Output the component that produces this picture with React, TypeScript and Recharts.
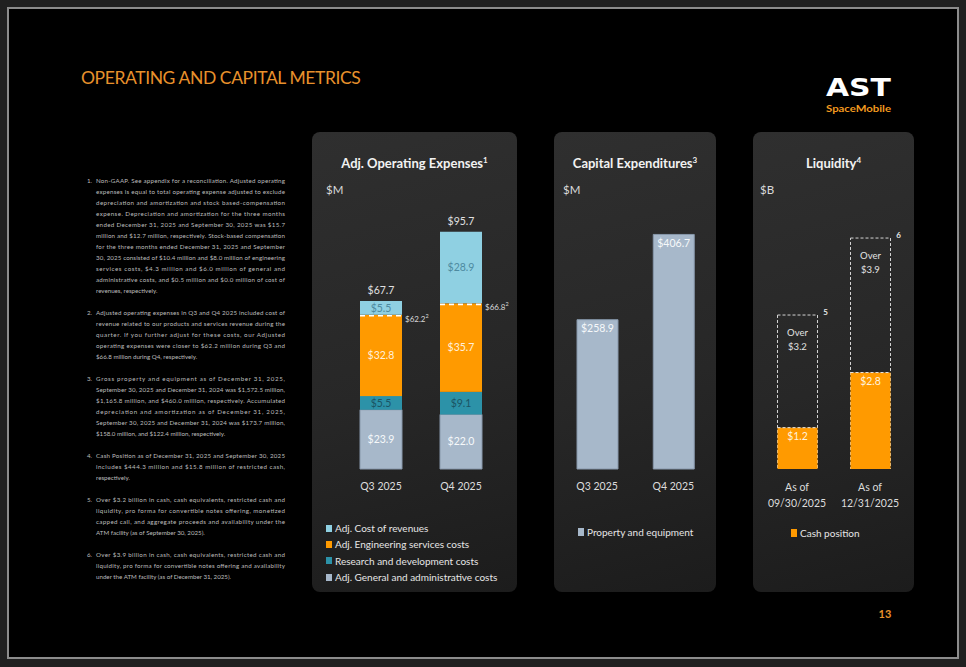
import { Bar, BarChart, LabelList, XAxis, YAxis } from "recharts";

const FONT = "Lato, 'Open Sans', sans-serif";

// Adj. operating expenses ($M)
const quarters = ["Q3 2025", "Q4 2025"];
const costOfRevenues = [5.5, 28.9];
const engineering = [32.8, 35.7];
const researchDev = [5.5, 9.1];
const generalAdmin = [23.9, 22.0];
const opexTotals = [67.7, 95.7];
const opexExCostOfRevenue = [62.2, 66.8];

// Capital expenditures ($M)
const capexQuarters = ["Q3 2025", "Q4 2025"];
const propertyEquipment = [258.9, 406.7];

// Liquidity ($B)
const liquidityDates = ["09/30/2025", "12/31/2025"];
const cashPosition = [1.2, 2.8];
const totalLiquidity = [3.2, 3.9];
const liquidityNotes = ["5", "6"];

const opexData = quarters.map((q, i) => ({
  q,
  ga: generalAdmin[i],
  rd: researchDev[i],
  eng: engineering[i],
  cor: costOfRevenues[i],
  total: opexTotals[i],
  adj: opexExCostOfRevenue[i],
}));

const capexData = capexQuarters.map((q, i) => ({ q, pe: propertyEquipment[i] }));

const liqData = liquidityDates.map((d, i) => ({
  d,
  cash: cashPosition[i],
  total: totalLiquidity[i],
  note: liquidityNotes[i],
}));

const C = {
  ga: "#a7b8ca",
  rd: "#2c92a8",
  eng: "#ff9a00",
  cor: "#8fd0e2",
};

const opexLegend = [
  { name: "Adj. Cost of revenues", color: C.cor },
  { name: "Adj. Engineering services costs", color: C.eng },
  { name: "Research and development costs", color: C.rd },
  { name: "Adj. General and administrative costs", color: C.ga },
];

const footnotes: [string, string[]][] = [
  [
    "1.",
    [
      "Non-GAAP. See appendix for a reconciliation. Adjusted operating",
      "expenses is equal to total operating expense adjusted to exclude",
      "depreciation and amortization and stock based-compensation",
      "expense. Depreciation and amortization for the three months",
      "ended December 31, 2025 and September 30, 2025 was $15.7",
      "million and $12.7 million, respectively. Stock-based compensation",
      "for the three months ended December 31, 2025 and September",
      "30, 2025 consisted of $10.4 million and $8.0 million of engineering",
      "services costs, $4.3 million and $6.0 million of general and",
      "administrative costs, and $0.5 million and $0.0 million of cost of",
      "revenues, respectively.",
    ],
  ],
  [
    "2.",
    [
      "Adjusted operating expenses in Q3 and Q4 2025 included cost of",
      "revenue related to our products and services revenue during the",
      "quarter. If you further adjust for these costs, our Adjusted",
      "operating expenses were closer to $62.2 million during Q3 and",
      "$66.8 million during Q4, respectively.",
    ],
  ],
  [
    "3.",
    [
      "Gross property and equipment as of December 31, 2025,",
      "September 30, 2025 and December 31, 2024 was $1,572.5 million,",
      "$1,165.8 million, and $460.0 million, respectively. Accumulated",
      "depreciation and amortization as of December 31, 2025,",
      "September 30, 2025 and December 31, 2024 was $173.7 million,",
      "$158.0 million, and $122.4 million, respectively.",
    ],
  ],
  [
    "4.",
    [
      "Cash Position as of December 31, 2025 and September 30, 2025",
      "includes $444.3 million and $15.8 million of restricted cash,",
      "respectively.",
    ],
  ],
  [
    "5.",
    [
      "Over $3.2 billion in cash, cash equivalents, restricted cash and",
      "liquidity, pro forma for convertible notes offering, monetized",
      "capped call, and aggregate proceeds and availability under the",
      "ATM facility (as of September 30, 2025).",
    ],
  ],
  [
    "6.",
    [
      "Over $3.9 billion in cash, cash equivalents, restricted cash and",
      "liquidity, pro forma for convertible notes offering and availability",
      "under the ATM facility (as of December 31, 2025).",
    ],
  ],
];

const money = (v: any) => "$" + Number(v).toFixed(1);

function Footnotes() {
  const L = 11;
  let y = 180.5 - 170;
  const out: any[] = [];
  footnotes.forEach(([num, lines], pi) => {
    lines.forEach((ln, li) => {
      const last = li === lines.length - 1;
      out.push(
        <g key={pi + "-" + li}>
          {li === 0 && (
            <text x={7} y={y + 2.2} fontSize={6.2} fill="#bdbdbd">
              {num}
            </text>
          )}
          <text
            x={16}
            y={y + 2.2}
            fontSize={6.2}
            fill="#bdbdbd"
            {...(last ? {} : { textLength: 189, lengthAdjust: "spacing" })}
          >
            {ln}
          </text>
        </g>
      );
      y += L;
    });
    y += L;
  });
  return (
    <svg
      width={215}
      height={430}
      style={{ position: "absolute", left: 80, top: 170, fontFamily: FONT }}
    >
      {out}
    </svg>
  );
}

const EngShape = (p: any) => {
  const { x, y, width, height, fill, payload } = p;
  return (
    <g>
      <rect x={x} y={y} width={width} height={height} fill={fill} />
      <line
        x1={x}
        x2={x + width}
        y1={y + 1}
        y2={y + 1}
        stroke="#ffffff"
        strokeWidth={1.6}
        strokeDasharray="5 4"
      />
      <text
        x={x + width + 3}
        y={y + 4}
        fill="#d9d9d9"
        fontSize={8}
        dominantBaseline="central"
        fontFamily={FONT}
      >
        {money(payload.adj)}
        <tspan fontSize={5.5} dy={-3}>
          2
        </tspan>
      </text>
    </g>
  );
};

const LiqBox = (p: any) => {
  const { x, y, width, height, payload } = p;
  const cx = x + width / 2;
  return (
    <g fontFamily={FONT}>
      <rect
        x={x}
        y={y}
        width={width}
        height={height}
        fill="none"
        stroke="#d4d4d4"
        strokeWidth={1}
        strokeDasharray="3 2"
      />
      <text x={cx} y={y + 17} textAnchor="middle" dominantBaseline="central" fill="#e2e2e2" fontSize={9.5}>
        Over
      </text>
      <text x={cx} y={y + 31} textAnchor="middle" dominantBaseline="central" fill="#e2e2e2" fontSize={9.5}>
        {money(payload.total)}
      </text>
      <text
        x={x + width + 8}
        y={y - 3}
        textAnchor="middle"
        dominantBaseline="central"
        fill="#e8e8e8"
        fontSize={8}
        fontWeight={700}
      >
        {payload.note}
      </text>
    </g>
  );
};

const CashShape = (p: any) => {
  const { x, y, width, height, fill } = p;
  return (
    <g>
      <rect x={x} y={y} width={width} height={height} fill={fill} />
      <line x1={x} x2={x + width} y1={y} y2={y} stroke="#e8e8e8" strokeWidth={1} strokeDasharray="3 2" />
    </g>
  );
};

const QTick = (p: any) => (
  <text
    x={p.x}
    y={p.y + 17}
    textAnchor="middle"
    dominantBaseline="central"
    fill="#dcdcdc"
    fontSize={10.5}
    fontFamily={FONT}
  >
    {p.payload.value}
  </text>
);

const LiqTick = (p: any) => (
  <g fontFamily={FONT} fontSize={10.5} fill="#dcdcdc">
    <text x={p.x} y={p.y + 18} textAnchor="middle" dominantBaseline="central">
      As of
    </text>
    <text x={p.x} y={p.y + 34} textAnchor="middle" dominantBaseline="central">
      {p.payload.value}
    </text>
  </g>
);

function Panel({ left, width, title, sup, unit }: any) {
  return (
    <div
      style={{
        position: "absolute",
        left,
        top: 132,
        width,
        height: 460,
        borderRadius: 8,
        background: "linear-gradient(165deg, #2f2f2f 0%, #272727 55%, #1c1c1c 100%)",
      }}
    >
      <div
        style={{
          position: "absolute",
          left: 0,
          width,
          top: 21,
          height: 20,
          lineHeight: "20px",
          textAlign: "center",
          fontWeight: 700,
          fontSize: 13,
          color: "#f2f2f2",
        }}
      >
        {title}
        <span style={{ fontSize: 8, position: "relative", top: -5 }}>{sup}</span>
      </div>
      <div
        style={{
          position: "absolute",
          left: unit.x,
          top: 50,
          height: 16,
          lineHeight: "16px",
          fontSize: 11.5,
          color: "#dadada",
        }}
      >
        {unit.t}
      </div>
    </div>
  );
}

function LegendList({ items, left, top, gap, square }: any) {
  return (
    <div style={{ position: "absolute", left, top }}>
      {items.map((it: any) => (
        <div key={it.name} style={{ display: "flex", alignItems: "center", height: gap }}>
          <span
            style={{
              display: "inline-block",
              width: square[0],
              height: square[1],
              background: it.color,
              marginRight: 3,
            }}
          />
          <span style={{ fontSize: 10, color: "#e6e6e6", whiteSpace: "nowrap" }}>{it.name}</span>
        </div>
      ))}
    </div>
  );
}

export default function App() {
  return (
    <div
      style={{
        position: "absolute",
        left: 0,
        top: 0,
        width: 966,
        height: 667,
        overflow: "hidden",
        background: "#202020",
        fontFamily: FONT,
      }}
    >
      <div
        style={{
          position: "absolute",
          left: 7,
          top: 7,
          width: 952,
          height: 652,
          boxSizing: "border-box",
          border: "2px solid #8c8c8c",
          background: "#000",
        }}
      />

      <div
        style={{
          position: "absolute",
          left: 81,
          top: 66,
          height: 24,
          lineHeight: "24px",
          fontSize: 17.5,
          letterSpacing: -0.4,
          color: "#e8912c",
          whiteSpace: "nowrap",
        }}
      >
        OPERATING AND CAPITAL METRICS
      </div>

      <svg width={80} height={30} style={{ position: "absolute", left: 822, top: 72 }}>
        <text
          x={4}
          y={24}
          fontSize={24}
          fontWeight={700}
          fill="#ffffff"
          textLength={65}
          lengthAdjust="spacingAndGlyphs"
          fontFamily="'DejaVu Sans', sans-serif"
        >
          AST
        </text>
      </svg>
      <svg width={80} height={16} style={{ position: "absolute", left: 822, top: 100 }}>
        <text
          x={4}
          y={12}
          fontSize={10}
          fontWeight={700}
          fill="#f29a1f"
          textLength={65}
          lengthAdjust="spacingAndGlyphs"
          fontFamily={FONT}
        >
          SpaceMobile
        </text>
      </svg>

      <Footnotes />

      <Panel left={312} width={205} title="Adj. Operating Expenses" sup="1" unit={{ x: 14, t: "$M" }} />
      <Panel left={554} width={162} title="Capital Expenditures" sup="3" unit={{ x: 9, t: "$M" }} />
      <Panel left={753} width={161} title="Liquidity" sup="4" unit={{ x: 7, t: "$B" }} />

      <div style={{ position: "absolute", left: 312, top: 132 }}>
        <BarChart
          width={205}
          height={378}
          data={opexData}
          margin={{ top: 89, right: 16, left: 29, bottom: 11 }}
          barSize={42}
        >
          <XAxis
            dataKey="q"
            axisLine={false}
            tickLine={false}
            tickSize={0}
            tickMargin={0}
            height={30}
            interval={0}
            tick={QTick}
          />
          <YAxis hide domain={[0, 100]} />
          <Bar dataKey="ga" stackId="a" fill={C.ga} stroke="#8797aa" strokeWidth={1} isAnimationActive={false}>
            <LabelList dataKey="ga" position="center" formatter={money} fill="#f6f8fa" fontSize={10.5} fontFamily={FONT} />
          </Bar>
          <Bar dataKey="rd" stackId="a" fill={C.rd} isAnimationActive={false}>
            <LabelList dataKey="rd" position="center" formatter={money} fill="#1b5464" fontSize={10.5} fontFamily={FONT} />
          </Bar>
          <Bar dataKey="eng" stackId="a" fill={C.eng} shape={EngShape} isAnimationActive={false}>
            <LabelList dataKey="eng" position="center" formatter={money} fill="#fff0dc" fontSize={10.5} fontFamily={FONT} />
          </Bar>
          <Bar dataKey="cor" stackId="a" fill={C.cor} isAnimationActive={false}>
            <LabelList dataKey="cor" position="center" formatter={money} fill="#4d8aa0" fontSize={10.5} fontFamily={FONT} />
            <LabelList dataKey="total" position="top" offset={7} formatter={money} fill="#e0e0e0" fontSize={10.5} fontFamily={FONT} />
          </Bar>
        </BarChart>
      </div>

      <div style={{ position: "absolute", left: 554, top: 132 }}>
        <BarChart
          width={162}
          height={378}
          data={capexData}
          margin={{ top: 89, right: 4.5, left: 5, bottom: 11 }}
          barSize={41}
        >
          <XAxis
            dataKey="q"
            axisLine={false}
            tickLine={false}
            tickSize={0}
            tickMargin={0}
            height={30}
            interval={0}
            tick={QTick}
          />
          <YAxis hide domain={[0, 430]} />
          <Bar dataKey="pe" fill={C.ga} stroke="#8797aa" strokeWidth={1} isAnimationActive={false}>
            <LabelList dataKey="pe" position="insideTop" offset={5} formatter={money} fill="#f6f8fa" fontSize={10.5} fontFamily={FONT} />
          </Bar>
        </BarChart>
      </div>

      <div style={{ position: "absolute", left: 753, top: 132 }}>
        <BarChart
          width={161}
          height={378}
          data={liqData}
          margin={{ top: 89, right: 7.5, left: 7.5, bottom: 11 }}
          barSize={40}
          barGap={-40}
        >
          <XAxis
            dataKey="d"
            axisLine={false}
            tickLine={false}
            tickSize={0}
            tickMargin={0}
            height={30}
            interval={0}
            tick={LiqTick}
          />
          <YAxis yAxisId="liq" hide domain={[1.8, 4.055]} allowDataOverflow />
          <YAxis yAxisId="cash" hide domain={[0, 7.2]} />
          <Bar yAxisId="liq" dataKey="total" shape={LiqBox} isAnimationActive={false} />
          <Bar yAxisId="cash" dataKey="cash" fill={C.eng} shape={CashShape} isAnimationActive={false}>
            <LabelList dataKey="cash" position="insideTop" offset={5} formatter={money} fill="#fff2de" fontSize={10.5} fontFamily={FONT} />
          </Bar>
        </BarChart>
      </div>

      <LegendList items={opexLegend} left={326} top={520} gap={16.3} square={[6, 7]} />
      <LegendList
        items={[{ name: "Property and equipment", color: C.ga }]}
        left={578}
        top={524}
        gap={16}
        square={[6, 8]}
      />
      <LegendList
        items={[{ name: "Cash position", color: C.eng }]}
        left={791}
        top={525}
        gap={16}
        square={[6, 8]}
      />

      <div
        style={{
          position: "absolute",
          left: 870,
          top: 606,
          width: 30,
          textAlign: "center",
          lineHeight: "16px",
          fontSize: 11,
          fontWeight: 700,
          color: "#e8912c",
        }}
      >
        13
      </div>
    </div>
  );
}
